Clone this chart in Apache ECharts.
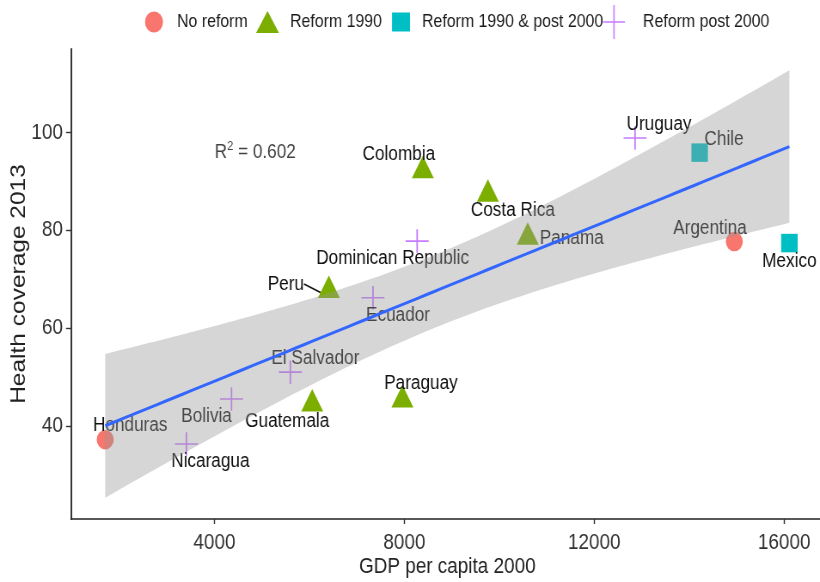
<!DOCTYPE html>
<html>
<head>
<meta charset="utf-8">
<script src="https://cdn.jsdelivr.net/npm/echarts@6/dist/echarts.min.js"></script>
<style>
  html, body { margin: 0; padding: 0; background: #ffffff; overflow: hidden; }
  #frame { width: 820px; height: 582px; overflow: hidden; position: relative; }
  /* the figure is laid out wide and then squeezed horizontally */
  #chart { width: 954px; height: 582px; transform: scaleX(0.8595); transform-origin: 0 0; }
</style>
</head>
<body>
<div id="frame"><div id="chart"></div></div>
<script>
// Latin American countries: GDP per capita (2000) vs. health coverage (2013)
const countries = [
  'Honduras', 'Nicaragua', 'Bolivia', 'El Salvador', 'Guatemala', 'Paraguay',
  'Colombia', 'Costa Rica', 'Panama', 'Dominican Republic', 'Peru', 'Ecuador',
  'Uruguay', 'Chile', 'Argentina', 'Mexico'
];
const gdpPerCapita2000 = [
  1700, 3410, 4360, 5600, 6060, 7960,
  8390, 9760, 10600, 8270, 6410, 7340,
  12860, 14220, 14950, 16110
];
const healthCoverage2013 = [
  37.2, 36.3, 45.5, 51.0, 44.5, 45.3,
  92.2, 87.4, 78.6, 77.8, 67.7, 66.2,
  98.9, 95.9, 77.7, 77.4
];
const reformGroup = [
  'No reform', 'Reform post 2000', 'Reform post 2000', 'Reform post 2000', 'Reform 1990', 'Reform 1990',
  'Reform 1990', 'Reform 1990', 'Reform 1990', 'Reform post 2000', 'Reform 1990', 'Reform post 2000',
  'Reform post 2000', 'Reform 1990 & post 2000', 'No reform', 'Reform 1990 & post 2000'
];
const groupNames = ['No reform', 'Reform 1990', 'Reform 1990 & post 2000', 'Reform post 2000'];
const xTickValues = [4000, 8000, 12000, 16000];
const yTickValues = [40, 60, 80, 100];
const rSquaredText = '0.602';
const rSquaredAnchor = [4860, 96];

// ---- styling -------------------------------------------------------------
// horizontal squeeze applied by the CSS transform; horizontal sizes below are
// given in final screen pixels and widened by this factor before drawing
const SQUEEZE = 0.8595;
const wide = (px) => px / SQUEEZE;
const FONT = "'Liberation Sans', Arial, sans-serif";
const TEXT = '#111111';
const groupColors = ['#F8766D', '#7CAE00', '#00BFC4', '#C77CFF'];
const PLUS = 'path://M0,11.2H24V12.8H0Z M11.2,0H12.8V24H11.2Z';
const PLUS_KEY = 'path://M0,16.2H25.6V17.8H0Z M12,0H13.6V34H12Z';
const groupSymbols = ['circle', 'triangle', 'rect', PLUS];
const legendIcons = ['circle', 'triangle', 'rect', PLUS_KEY];
const groupSymbolSizes = [[17, 19.5], [22, 22.5], [16.5, 18.5], [23, 23.5]];
// a filled triangle's reference point is its centroid, one sixth of its height below the box centre
const groupSymbolOffsets = [[0, 0], [0, -3.75], [0, 0], [0, 0]];

// label placement around each point (screen px, text centre relative to symbol centre)
const labelShift = {
  'Honduras': [25, -14], 'Nicaragua': [24, 17], 'Bolivia': [-25, 17],
  'El Salvador': [25, -13.5], 'Guatemala': [-25, 21], 'Paraguay': [18.5, -13],
  'Colombia': [-24, -12.7], 'Costa Rica': [25, 20], 'Panama': [44, 5],
  'Dominican Republic': [-24.5, 17.3], 'Peru': [-43, -2.7], 'Ecuador': [25, 17.4],
  'Uruguay': [24, -13.4], 'Chile': [24.4, -13], 'Argentina': [-24.3, -13.4],
  'Mexico': [0, 18.4]
};

// legend layout (screen px): icon left, icon width, icon height, text start
const legendLayout = [
  [145, 18, 21, 177],
  [256, 23, 22, 290],
  [392, 18, 19, 422],
  [603, 22, 34, 643]
];
const legendMidY = 22;

// ---- linear fit with 95% confidence band ---------------------------------
const n = gdpPerCapita2000.length;
const meanX = gdpPerCapita2000.reduce((s, v) => s + v, 0) / n;
const meanY = healthCoverage2013.reduce((s, v) => s + v, 0) / n;
let sxx = 0, sxy = 0, syy = 0;
for (let i = 0; i < n; i++) {
  const dx = gdpPerCapita2000[i] - meanX, dy = healthCoverage2013[i] - meanY;
  sxx += dx * dx; sxy += dx * dy; syy += dy * dy;
}
const slope = sxy / sxx;
const intercept = meanY - slope * meanX;
const sigma = Math.sqrt((syy - slope * sxy) / (n - 2));
const tCrit = 2.1448; // Student t, 97.5% quantile, n - 2 = 14 degrees of freedom
const fitLo = Math.min(...gdpPerCapita2000), fitHi = Math.max(...gdpPerCapita2000);
const fitX = [], fitY = [], bandLow = [], bandHigh = [];
for (let k = 0; k < 80; k++) {
  const x = fitLo + (fitHi - fitLo) * k / 79;
  const yhat = intercept + slope * x;
  const se = sigma * Math.sqrt(1 / n + (x - meanX) * (x - meanX) / sxx);
  fitX.push(x); fitY.push(yhat);
  bandLow.push(yhat - tCrit * se); bandHigh.push(yhat + tCrit * se);
}

// axis limits padded by 5% of the range of everything drawn
const xPad = (fitHi - fitLo) * 0.05;
const yAllLo = Math.min(...healthCoverage2013, ...bandLow);
const yAllHi = Math.max(...healthCoverage2013, ...bandHigh);
const yPad = (yAllHi - yAllLo) * 0.05;

// ---- series ----------------------------------------------------------------
const pointSeries = groupNames.map((g, gi) => ({
  type: 'scatter',
  name: g,
  z: 2,
  symbol: groupSymbols[gi],
  symbolSize: [wide(groupSymbolSizes[gi][0]), groupSymbolSizes[gi][1]],
  symbolOffset: groupSymbolOffsets[gi],
  itemStyle: { color: groupColors[gi], opacity: 1 },
  label: {
    show: true, position: 'inside', formatter: '{b}',
    fontSize: 20, fontFamily: FONT, color: TEXT
  },
  labelLine: { show: false },
  labelLayout: (p) => {
    const s = labelShift[p.text];
    return s ? { dx: wide(s[0]), dy: s[1] } : {};
  },
  emphasis: { disabled: true },
  data: countries
    .map((c, i) => ({ c, i }))
    .filter(o => reformGroup[o.i] === g)
    .map(o => {
      const item = { name: o.c, value: [gdpPerCapita2000[o.i], healthCoverage2013[o.i]] };
      if (o.c === 'Peru') {
        item.labelLine = { show: true, length2: 0, lineStyle: { color: TEXT, width: 1.6 } };
      }
      return item;
    })
}));

const bandSeries = {
  type: 'custom',
  name: 'confidence band',
  z: 3,
  silent: true,
  data: [[fitX[0], bandLow[0]]],
  renderItem: (params, api) => {
    const pts = [];
    for (let k = 0; k < fitX.length; k++) pts.push(api.coord([fitX[k], bandHigh[k]]));
    for (let k = fitX.length - 1; k >= 0; k--) pts.push(api.coord([fitX[k], bandLow[k]]));
    return { type: 'polygon', shape: { points: pts }, style: { fill: 'rgba(153,153,153,0.4)' } };
  }
};

const fitSeries = {
  type: 'line',
  name: 'fit',
  z: 4,
  silent: true,
  showSymbol: false,
  lineStyle: { color: '#3366FF', width: 3 },
  data: fitX.map((x, k) => [x, fitY[k]])
};

const noteSeries = {
  type: 'scatter',
  name: 'note',
  z: 5,
  silent: true,
  symbolSize: 0,
  data: [{ value: rSquaredAnchor }],
  label: {
    show: true, position: 'inside',
    formatter: '{r|R}{s|2}{r| = ' + rSquaredText + '}',
    rich: {
      r: { fontSize: 20, fontFamily: FONT, color: TEXT, lineHeight: 24 },
      s: { fontSize: 13, fontFamily: FONT, color: TEXT, verticalAlign: 'top', lineHeight: 24 }
    }
  }
};

const chart = echarts.init(document.getElementById('chart'), null, { renderer: 'canvas' });
chart.setOption({
  animation: false,
  backgroundColor: '#ffffff',
  grid: {
    left: wide(71), right: wide(-3.6), top: 49, bottom: 63,
    containLabel: false, outerBoundsMode: 'none'
  },
  legend: groupNames.map((g, gi) => {
    const [left, w, h, textStart] = legendLayout[gi];
    return {
      data: [{ name: g, icon: legendIcons[gi] }],
      left: wide(left),
      top: legendMidY - h / 2,
      itemWidth: wide(w),
      itemHeight: h,
      padding: 0,
      selectedMode: false,
      textStyle: {
        fontSize: 18.5, fontFamily: FONT, color: '#1a1a1a',
        padding: [0, 0, 0, wide(textStart - left - w) - 5]
      }
    };
  }),
  xAxis: {
    type: 'value',
    min: fitLo - xPad,
    max: fitHi + xPad,
    axisLine: { show: true, onZero: false, lineStyle: { color: '#222222', width: 1.6 } },
    axisTick: { show: true, length: 5, customValues: xTickValues, lineStyle: { color: '#333333', width: 1.4 } },
    axisLabel: {
      customValues: xTickValues, formatter: (v) => String(v),
      fontSize: 22, fontFamily: FONT, color: '#333333', margin: 13
    },
    splitLine: { show: false },
    name: 'GDP per capita 2000',
    nameLocation: 'middle',
    nameGap: 37,
    nameMoveOverlap: false,
    nameTextStyle: { fontSize: 22, fontFamily: FONT, color: '#222222' }
  },
  yAxis: {
    type: 'value',
    min: yAllLo - yPad,
    max: yAllHi + yPad,
    axisLine: { show: true, onZero: false, lineStyle: { color: '#222222', width: 1.8 } },
    axisTick: { show: true, length: wide(5), customValues: yTickValues, lineStyle: { color: '#333333', width: 1.4 } },
    axisLabel: {
      customValues: yTickValues, formatter: (v) => String(v),
      fontSize: 22, fontFamily: FONT, color: '#333333', margin: wide(8)
    },
    splitLine: { show: false },
    name: 'Health coverage 2013',
    nameLocation: 'middle',
    nameGap: wide(41),
    nameMoveOverlap: false,
    nameTextStyle: { fontSize: 24.5, fontFamily: FONT, color: '#222222' }
  },
  series: [...pointSeries, bandSeries, fitSeries, noteSeries]
});
</script>
</body>
</html>
